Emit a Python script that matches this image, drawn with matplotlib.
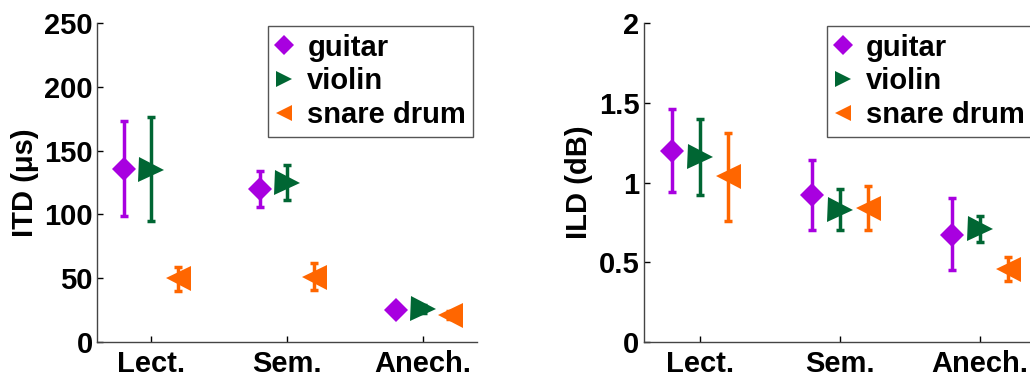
import numpy as np
import matplotlib
matplotlib.use("Agg")
import matplotlib.pyplot as plt

plt.rcParams["font.family"] = ["Liberation Sans", "DejaVu Sans"]
plt.rcParams["font.weight"] = "bold"

# Data
rooms = ["Lect.", "Sem.", "Anech."]
instruments = ["guitar", "violin", "snare drum"]

itd_mean = {
    "guitar": [136, 120, 25],
    "violin": [135, 125, 26],
    "snare drum": [50, 51, 21],
}
itd_low = {
    "guitar": [99, 106, 22],
    "violin": [95, 111, 23],
    "snare drum": [40, 41, 18],
}
itd_high = {
    "guitar": [173, 134, 28],
    "violin": [176, 139, 29],
    "snare drum": [59, 62, 24],
}

ild_mean = {
    "guitar": [1.20, 0.92, 0.67],
    "violin": [1.16, 0.83, 0.71],
    "snare drum": [1.04, 0.84, 0.46],
}
ild_low = {
    "guitar": [0.94, 0.70, 0.45],
    "violin": [0.92, 0.70, 0.63],
    "snare drum": [0.76, 0.70, 0.38],
}
ild_high = {
    "guitar": [1.46, 1.14, 0.90],
    "violin": [1.40, 0.96, 0.79],
    "snare drum": [1.31, 0.98, 0.53],
}

colors = {"guitar": "#a800e0", "violin": "#006633", "snare drum": "#ff6600"}
markers = {"guitar": "D", "violin": ">", "snare drum": "<"}
msizes = {"guitar": 12, "violin": 18, "snare drum": 18}
offsets = {"guitar": -0.2, "violin": 0.0, "snare drum": 0.2}

fig = plt.figure(figsize=(10.30, 3.77), dpi=100)
ax1 = fig.add_axes([0.0942, 0.0928, 0.369, 0.846])
ax2 = fig.add_axes([0.625, 0.0928, 0.381, 0.846])


def draw_panel(ax, mean, low, high, ylim, yticks, yticklabels, ylabel):
    x = np.arange(1, len(rooms) + 1)
    for name in instruments:
        m = np.array(mean[name])
        lo = m - np.array(low[name])
        hi = np.array(high[name]) - m
        ax.errorbar(x + offsets[name], m, yerr=[lo, hi], fmt="none",
                    ecolor=colors[name], elinewidth=2.5, capsize=3, capthick=2.5)
        ax.plot(x + offsets[name], m, linestyle="none", marker=markers[name],
                markersize=msizes[name], color=colors[name], markeredgewidth=0)
    # legend handles (smaller markers, no error bars)
    handles = [plt.Line2D([], [], linestyle="none", marker=markers[n],
                          markersize=10 if n == "guitar" else 12,
                          color=colors[n], markeredgewidth=0) for n in instruments]
    leg = ax.legend(handles, instruments, loc="upper right", fontsize=21,
                    handlelength=0.6, handletextpad=0.5, labelspacing=0.2,
                    borderpad=0.25, borderaxespad=0.0, fancybox=False,
                    framealpha=1, bbox_to_anchor=(0.99, 0.99))
    leg.get_frame().set_edgecolor("#555555")
    leg.get_frame().set_linewidth(1)
    ax.set_xlim(0.6, 3.4)
    ax.set_ylim(*ylim)
    ax.set_xticks(x)
    ax.set_xticklabels(rooms)
    ax.set_yticks(yticks)
    ax.set_yticklabels(yticklabels)
    ax.set_ylabel(ylabel, fontsize=21, fontweight="bold", labelpad=4)
    ax.tick_params(direction="in", length=4, labelsize=21, colors="black",
                   width=1, pad=3)
    ax.tick_params(axis="x", pad=6)
    ax.spines["top"].set_visible(False)
    ax.spines["right"].set_visible(False)
    for s in ("left", "bottom"):
        ax.spines[s].set_color("#444444")
        ax.spines[s].set_linewidth(1)
    for lab in ax.get_xticklabels() + ax.get_yticklabels():
        lab.set_fontweight("bold")


draw_panel(ax1, itd_mean, itd_low, itd_high, (0, 250),
           [0, 50, 100, 150, 200, 250], ["0", "50", "100", "150", "200", "250"],
           "ITD (\u03bcs)")
draw_panel(ax2, ild_mean, ild_low, ild_high, (0, 2),
           [0, 0.5, 1, 1.5, 2], ["0", "0.5", "1", "1.5", "2"],
           "ILD (dB)")

fig.savefig("out.png", dpi=100)
